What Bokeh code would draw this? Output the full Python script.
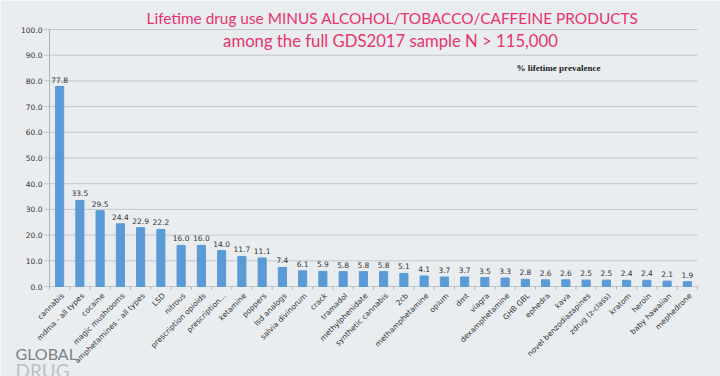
import math
from bokeh.plotting import figure
from bokeh.models import ColumnDataSource, Label, Range1d
from bokeh.core.properties import value
from bokeh.embed import file_html
from bokeh.resources import INLINE

drugs = ["cannabis", "mdma - all types", "cocaine", "magic mushrooms", "amphetamines - all types",
         "LSD", "nitrous", "prescription opioids", "prescription...", "ketamine", "poppers",
         "lsd analogs", "salvia divinorum", "crack", "tramadol", "methylphenidate",
         "synthetic cannabis", "2cb", "methamphetamine", "opium", "dmt", "viagra",
         "dexamphetamine", "GHB GBL", "ephedra", "kava", "novel benzodiazapines",
         "zdrug (z-class)", "kratom", "heroin", "baby hawaiian", "mephedrone"]
prevalence = [77.8, 33.5, 29.5, 24.4, 22.9, 22.2, 16.0, 16.0, 14.0, 11.7, 11.1,
              7.4, 6.1, 5.9, 5.8, 5.8, 5.8, 5.1, 4.1, 3.7, 3.7, 3.5,
              3.3, 2.8, 2.6, 2.6, 2.5, 2.5, 2.4, 2.4, 2.1, 1.9]
y_ticks = [0, 10, 20, 30, 40, 50, 60, 70, 80, 90, 100]

title_1 = "Lifetime drug use MINUS ALCOHOL/TOBACCO/CAFFEINE PRODUCTS"
title_2 = "among the full GDS2017 sample N > 115,000"
series_name = "% lifetime prevalence"

W, H = 720, 376
BG = "#e9edf0"
GRID = "#c3c7cb"
TXT = "#333333"

# layout of the plotting area in page pixels
LEFT, RIGHT, TOP, BOTTOM = 49, 697, 29, 286
n = len(drugs)
px_per_cat = (RIGHT - LEFT) / n
px_per_unit = (BOTTOM - TOP) / (y_ticks[-1] - y_ticks[0])

x_range = Range1d(-LEFT / px_per_cat, (W - LEFT) / px_per_cat)
y_range = Range1d(-(H - BOTTOM) / px_per_unit, BOTTOM / px_per_unit)

xc = [i + 0.5 for i in range(n)]
edges = list(range(n + 1))

src = ColumnDataSource(dict(x=xc, drug=drugs, val=prevalence,
                            lab=["%.1f" % v for v in prevalence]))

p = figure(width=W, height=H, x_range=x_range, y_range=y_range,
           output_backend="svg", toolbar_location=None, min_border=0)
p.background_fill_color = BG
p.border_fill_color = BG
p.outline_line_color = None
p.axis.visible = False
p.grid.visible = False

# grid lines with small outward ticks on the left
p.segment(x0=-0.28, x1=edges[-1], y0=y_ticks, y1=y_ticks, line_color=GRID, line_width=1)
# vertical axis line
p.segment(x0=[0], x1=[0], y0=[y_ticks[0]], y1=[y_ticks[-1]], line_color="#b0b4b8", line_width=1)
# category ticks on the x axis
p.segment(x0=edges, x1=edges, y0=0, y1=-1.2, line_color="#b0b4b8", line_width=1)

# y tick labels
p.text(x=0, y=y_ticks, text=["%.1f" % t for t in y_ticks], x_offset=-7,
       text_align="right", text_baseline="middle", text_font=value("DejaVu Sans"),
       text_font_size="7.5px", text_color=TXT)

# bars and value labels
p.vbar(x="x", top="val", width=0.4, source=src, color="#5b9bd5")
p.text(x="x", y="val", text="lab", source=src, text_align="center", text_baseline="bottom",
       y_offset=-4, text_font=value("DejaVu Sans"), text_font_size="7.5px", text_color=TXT)

# rotated category labels
p.text(x="x", y=0, text="drug", source=src, angle=math.pi / 4, text_align="right",
       text_baseline="middle", x_offset=3, y_offset=8, text_font=value("DejaVu Sans"),
       text_font_size="7.5px", text_color=TXT)

def lab(ix, iy, text, **kw):
    p.add_layout(Label(x=ix, y=H - iy, x_units="screen", y_units="screen", text=text, **kw))

lab(392, 17, title_1, text_align="center", text_baseline="middle", text_font="Lato",
    text_font_size="15.4px", text_color="#e8336d")
lab(390, 40, title_2, text_align="center", text_baseline="middle", text_font="Lato",
    text_font_size="16.7px", text_color="#e8336d")
lab(558, 67, series_name, text_align="center", text_baseline="middle", text_font="Liberation Serif",
    text_font_size="9px", text_font_style="bold", text_color="#222222")
lab(15, 353, "GLOBAL", text_align="left", text_baseline="alphabetic", text_font="Lato",
    text_font_size="16px", text_color="#7d8185")
lab(15, 370, "DRUG", text_align="left", text_baseline="alphabetic", text_font="Lato",
    text_font_size="19px", text_color="#bcc0c4")

open("out.html", "w").write(file_html(p, INLINE))
